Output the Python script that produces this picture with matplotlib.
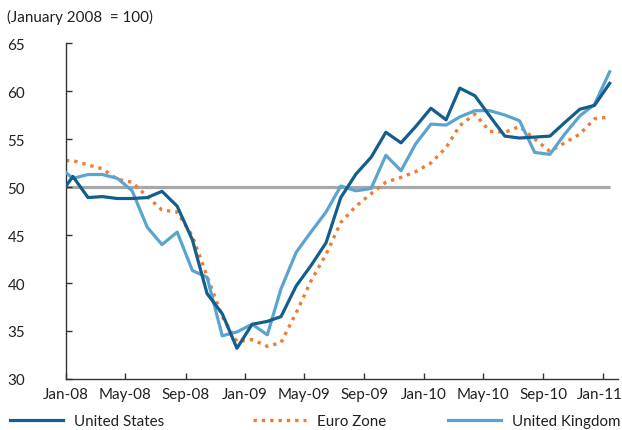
import matplotlib

matplotlib.use("Agg")
import matplotlib.pyplot as plt
import matplotlib.dates as mdates
import matplotlib.transforms as mtransforms
import pandas as pd

# first reading is the 1 Jan base, the rest are mid-month readings
dates = [pd.Timestamp("2008-01-01")] + list(pd.date_range("2008-01-01", "2011-01-01", freq="MS") + pd.Timedelta(days=14))

united_states = [50.1,
                 51.1, 48.9, 49.0, 48.8, 48.8, 48.9, 49.55, 48.0, 44.5, 38.9, 36.8, 33.2,
                 35.7, 36.0, 36.5, 39.7, 41.8, 44.2, 48.9, 51.35, 53.1, 55.7, 54.6, 56.3,
                 58.2, 57.0, 60.3, 59.5, 57.4, 55.3, 55.1, 55.2, 55.3, 56.7, 58.1, 58.5,
                 60.8]
euro_zone = [52.75,
             52.75, 52.3, 51.9, 50.8, 50.5, 49.0, 47.6, 47.4, 44.9, 40.7, 36.5, 33.9,
             34.1, 33.4, 33.8, 36.9, 40.2, 43.0, 46.3, 48.0, 49.3, 50.5, 51.0, 51.6,
             52.5, 54.1, 56.4, 57.6, 55.8, 55.7, 56.3, 55.0, 53.7, 54.6, 55.5, 57.1,
             57.3]
united_kingdom = [51.5,
                  50.9, 51.3, 51.3, 50.9, 49.6, 45.8, 44.0, 45.3, 41.3, 40.6, 34.5, 34.9,
                  35.7, 34.6, 39.4, 43.2, 45.3, 47.4, 50.1, 49.6, 49.85, 53.3, 51.7, 54.5,
                  56.55, 56.45, 57.3, 57.95, 57.95, 57.5, 56.9, 53.6, 53.4, 55.5, 57.4, 58.6,
                  62.0]
threshold = 50
y_ticks = [30, 35, 40, 45, 50, 55, 60, 65]

C_US = "#135e8c"
C_EZ = "#ee7d31"
C_UK = "#5ba4cf"
C_REF = "#a8a8a8"
C_TXT = "#231f20"
FS = 10.9

plt.rcParams["font.family"] = ["Lato", "DejaVu Sans"]
plt.rcParams["font.size"] = FS

fig = plt.figure(figsize=(6.22, 4.31), dpi=100)
ax = fig.add_axes([66 / 622, 51 / 431, 552 / 622, 336 / 431])

ax.plot([dates[0], dates[-1]], [threshold, threshold], color=C_REF, lw=2.3, solid_capstyle="butt", zorder=1)
us_line, = ax.plot(dates, united_states, color=C_US, lw=2.3, label="United States", zorder=4)
ez_line, = ax.plot(dates, euro_zone, color=C_EZ, lw=2.4, ls=(0, (1, 1.5)), dash_capstyle="butt",
                   label="Euro Zone", zorder=2)
uk_line, = ax.plot(dates, united_kingdom, color=C_UK, lw=2.3, label="United Kingdom", zorder=3)

ax.set_ylim(30, 65)
ax.set_yticks(y_ticks)
ax.set_xlim(pd.Timestamp("2008-01-01"), pd.Timestamp("2011-02-01"))
ax.xaxis.set_major_locator(mdates.MonthLocator(bymonth=(1, 5, 9)))
ax.xaxis.set_major_formatter(mdates.DateFormatter("%b-%y"))

for side in ("top", "right"):
    ax.spines[side].set_visible(False)
for side in ("left", "bottom"):
    ax.spines[side].set_color("#333333")
    ax.spines[side].set_linewidth(1.0)
ax.tick_params(axis="y", direction="in", length=4, width=1, color="#333333",
               pad=29.5, labelcolor=C_TXT, labelsize=FS)
ax.tick_params(axis="x", direction="in", length=4, width=1, color="#333333",
               pad=6, labelcolor=C_TXT, labelsize=FS)

# nudge the last date label so it stays inside the figure edge
fig.canvas.draw()
last = ax.get_xticklabels()[-1]
last.set_transform(last.get_transform() + mtransforms.ScaledTranslation(-3 / 100, 0, fig.dpi_scale_trans))

fig.text(7 / 622, 1 - 17 / 431, "(January 2008  = 100)", ha="left", va="center",
         fontsize=FS, color=C_TXT)

# legend entries sit at fixed spots along the bottom edge
for handle, x0 in ((us_line, 10), (ez_line, 253), (uk_line, 448)):
    fig.legend(handles=[handle], loc="center left", bbox_to_anchor=(x0 / 622, 9 / 431),
               frameon=False, borderpad=0, borderaxespad=0, handlelength=3.5,
               handletextpad=0.7, fontsize=FS, labelcolor=C_TXT)

fig.savefig("out.png", dpi=100)
